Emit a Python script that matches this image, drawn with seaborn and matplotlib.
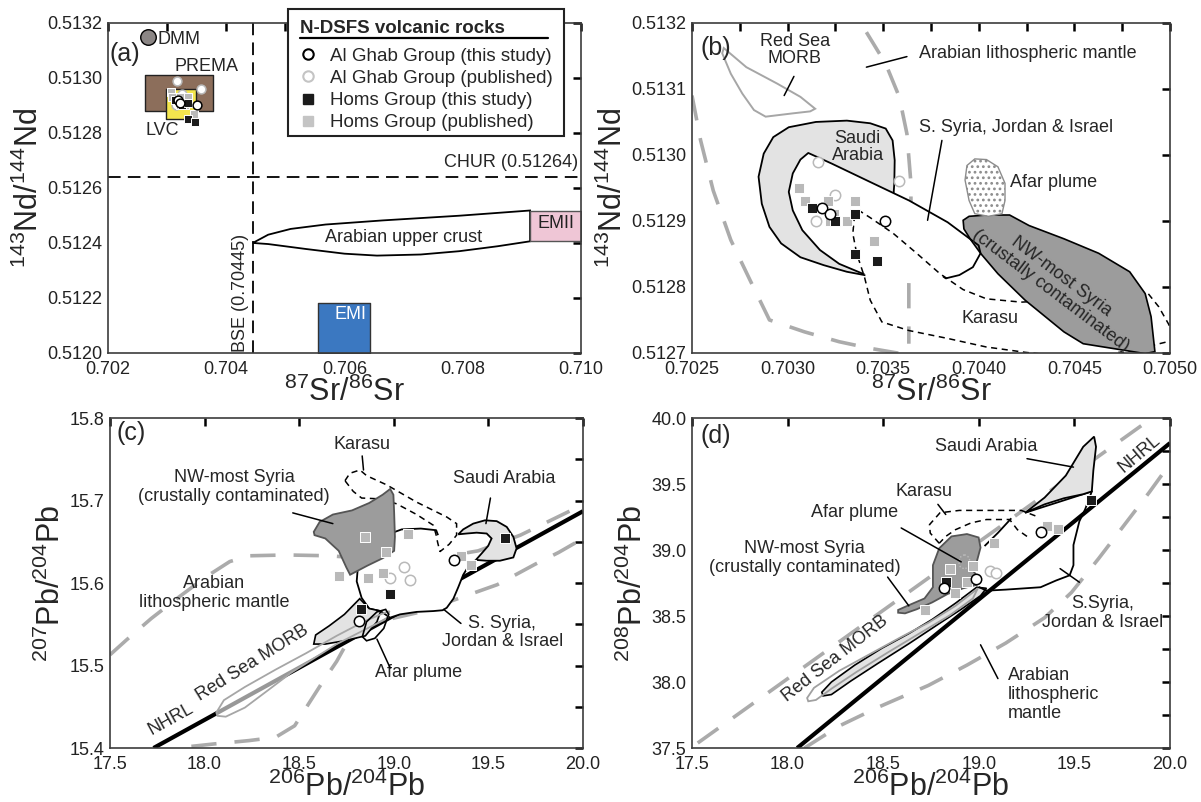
import matplotlib
matplotlib.use("Agg")
import matplotlib.pyplot as plt
import seaborn as sns
import numpy as np
from matplotlib.lines import Line2D
from matplotlib.patches import Rectangle
from matplotlib.ticker import MultipleLocator, FormatStrFormatter

sns.set_style("white")
plt.rcParams["font.family"] = ["Liberation Sans", "DejaVu Sans"]
plt.rcParams["mathtext.fontset"] = "custom"
plt.rcParams["mathtext.rm"] = "Liberation Sans"
plt.rcParams["mathtext.it"] = "Liberation Sans:italic"
plt.rcParams["mathtext.bf"] = "Liberation Sans:bold"
plt.rcParams["hatch.linewidth"] = 1.2
plt.rcParams["hatch.color"] = "#9a9a9a"

# ---------------- sample data ----------------
# Sr-Nd isotopes (panels a and b)
srnd_ghab_this_x = [0.70318, 0.70322, 0.70351]
srnd_ghab_this_y = [0.51292, 0.51291, 0.51290]
srnd_ghab_pub_x = [0.70316, 0.70325, 0.70358, 0.70315]
srnd_ghab_pub_y = [0.51299, 0.51294, 0.51296, 0.51290]
srnd_homs_this_x = [0.70313, 0.70325, 0.70335, 0.70335, 0.70347]
srnd_homs_this_y = [0.51292, 0.51290, 0.51291, 0.51285, 0.51284]
srnd_homs_pub_x = [0.70306, 0.70309, 0.70321, 0.70335, 0.70324, 0.70322, 0.70331, 0.70345]
srnd_homs_pub_y = [0.51295, 0.51293, 0.51293, 0.51293, 0.51291, 0.51290, 0.51290, 0.51287]

# 206Pb/204Pb vs 207Pb/204Pb (panel c)
pb7_ghab_this_x = [19.319, 18.814]
pb7_ghab_this_y = [15.628, 15.554]
pb7_ghab_pub_x = [19.052, 18.981, 19.086]
pb7_ghab_pub_y = [15.619, 15.606, 15.604]
pb7_homs_this_x = [19.588, 18.981, 18.826]
pb7_homs_this_y = [15.654, 15.587, 15.569]
pb7_homs_pub_x = [18.850, 19.076, 18.961, 18.709, 18.866, 18.941, 19.355, 19.406]
pb7_homs_pub_y = [15.656, 15.659, 15.637, 15.609, 15.606, 15.612, 15.633, 15.622]

# 206Pb/204Pb vs 208Pb/204Pb (panel d)
pb8_ghab_this_x = [19.323, 18.817, 18.987]
pb8_ghab_this_y = [39.133, 38.715, 38.782]
pb8_ghab_pub_x = [19.058, 19.089]
pb8_ghab_pub_y = [38.842, 38.829]
pb8_homs_this_x = [19.587, 18.830]
pb8_homs_this_y = [39.377, 38.760]
pb8_homs_pub_x = [19.358, 19.414, 19.080, 18.849, 18.967, 18.938, 18.874, 18.716]
pb8_homs_pub_y = [39.179, 39.161, 39.051, 38.854, 38.877, 38.758, 38.676, 38.544]

# ---------------- reservoir / field outlines ----------------
# panel a
a_dmm = [(0.70268, 0.51315)]
a_prema_x, a_prema_y = [0.70262, 0.70378], [0.51288, 0.51301]
a_lvc_x, a_lvc_y = [0.70298, 0.70349], [0.51285, 0.51296]
a_emi_x, a_emi_y = [0.70556, 0.70643], [0.51200, 0.51218]
a_emii_x, a_emii_y = [0.70914, 0.71000], [0.512406, 0.512518]
a_crust = [(0.70445, 0.51240), (0.70471, 0.512430), (0.70509, 0.512451), (0.70568, 0.512467),
           (0.70665, 0.512482), (0.70794, 0.512499), (0.70914, 0.512518),
           (0.70914, 0.512406), (0.70859, 0.512388), (0.70794, 0.512370), (0.70729, 0.512358),
           (0.70655, 0.512354), (0.70600, 0.512361), (0.70535, 0.512378), (0.70471, 0.512396),
           (0.70445, 0.51240)]
a_bse_sr = 0.70445
a_chur_nd = 0.51264

# panel b
b_morb = [(0.702666, 0.513162), (0.702784, 0.513133), (0.702946, 0.513108), (0.703067, 0.513088),
          (0.703144, 0.513070), (0.703118, 0.513066), (0.703027, 0.513063), (0.702885, 0.513058),
          (0.702824, 0.513068), (0.702763, 0.513093), (0.702703, 0.513123), (0.702658, 0.513154)]
b_mantle_outer = [(0.70250, 0.513090), (0.702545, 0.513022), (0.702611, 0.512946), (0.702703, 0.512871),
                  (0.702804, 0.512810), (0.702905, 0.512750), (0.703088, 0.512732), (0.703270, 0.512717),
                  (0.703432, 0.512707), (0.703594, 0.512699)]
b_mantle_inner = [(0.703412, 0.513186), (0.703513, 0.513138), (0.703584, 0.513088), (0.703624, 0.513032),
                  (0.703645, 0.512957), (0.703645, 0.512881), (0.703634, 0.512805), (0.703634, 0.512714)]
b_saudi = [(0.703402, 0.512818), (0.703310, 0.512823), (0.703189, 0.512833), (0.703067, 0.512845),
           (0.702966, 0.512866), (0.702905, 0.512891), (0.702865, 0.512926), (0.702848, 0.512967),
           (0.702875, 0.513002), (0.702925, 0.513027), (0.703006, 0.513042), (0.703148, 0.513050),
           (0.703310, 0.513052), (0.703432, 0.513048), (0.703513, 0.513040), (0.703549, 0.513022),
           (0.703560, 0.512992), (0.703558, 0.512957), (0.703553, 0.512936), (0.703412, 0.512881)]
b_ssyria = [(0.703402, 0.512819), (0.703270, 0.512835), (0.703169, 0.512856), (0.703077, 0.512886),
            (0.703027, 0.512916), (0.703006, 0.512944), (0.703027, 0.512972), (0.703067, 0.512993),
            (0.703108, 0.513003), (0.703230, 0.512987), (0.703432, 0.512959), (0.703635, 0.512931),
            (0.703837, 0.512898), (0.703999, 0.512863), (0.704009, 0.512851), (0.703969, 0.512830),
            (0.703898, 0.512818), (0.703827, 0.512813), (0.703813, 0.512816)]
b_karasu = [(0.703367, 0.512917), (0.703432, 0.512905), (0.703553, 0.512881), (0.703675, 0.512851),
            (0.703797, 0.512820), (0.703918, 0.512796), (0.704040, 0.512782), (0.704222, 0.512777),
            (0.704546, 0.512782), (0.704880, 0.512792), (0.704941, 0.512770), (0.704992, 0.512744),
            (0.705030, 0.512720), (0.704600, 0.512690), (0.704242, 0.512701), (0.704040, 0.512709),
            (0.703837, 0.512722), (0.703634, 0.512734), (0.703493, 0.512747), (0.703432, 0.512780),
            (0.703402, 0.512815), (0.703361, 0.512851), (0.703341, 0.512881), (0.703351, 0.512911)]
b_nwsyria = [(0.703918, 0.512901), (0.703949, 0.512907), (0.704040, 0.512909), (0.704161, 0.512909),
             (0.704263, 0.512893), (0.704445, 0.512873), (0.704627, 0.512851), (0.704789, 0.512823),
             (0.704870, 0.512790), (0.704901, 0.512755), (0.704921, 0.512702), (0.704870, 0.512699),
             (0.704546, 0.512714), (0.704445, 0.512732), (0.704242, 0.512780), (0.704100, 0.512820),
             (0.704009, 0.512851), (0.703959, 0.512871), (0.703922, 0.512888)]
b_afar = [(0.703979, 0.512994), (0.704040, 0.512993), (0.704100, 0.512982), (0.704137, 0.512957),
          (0.704137, 0.512931), (0.704121, 0.512911), (0.704050, 0.512907), (0.703979, 0.512911),
          (0.703949, 0.512931), (0.703928, 0.512962), (0.703938, 0.512984)]

# panel c
c_nhrl_x, c_nhrl_y = [17.73, 20.0], [15.400, 15.687]
c_mantle_upper = [(17.500, 15.513), (17.587, 15.531), (17.718, 15.557), (17.870, 15.584), (18.011, 15.608),
                  (18.133, 15.626), (18.234, 15.633), (18.436, 15.634), (18.658, 15.633), (18.840, 15.630),
                  (19.143, 15.627), (19.446, 15.639), (19.669, 15.658), (19.830, 15.676), (20.0, 15.695)]
c_mantle_lower = [(17.930, 15.402), (18.052, 15.405), (18.234, 15.409), (18.375, 15.413), (18.476, 15.427),
                  (18.537, 15.449), (18.618, 15.478), (18.698, 15.505), (18.749, 15.526), (18.820, 15.548),
                  (19.143, 15.565), (19.375, 15.584), (19.547, 15.598), (19.749, 15.623), (19.871, 15.637),
                  (20.0, 15.654)]
c_morb = [(18.062, 15.443), (18.102, 15.458), (18.213, 15.474), (18.375, 15.495), (18.537, 15.515),
          (18.698, 15.536), (18.840, 15.553), (18.941, 15.563), (18.977, 15.566), (18.965, 15.557),
          (18.860, 15.545), (18.698, 15.526), (18.456, 15.491), (18.335, 15.470), (18.213, 15.449),
          (18.112, 15.438), (18.068, 15.439)]
c_lowfield = [(18.577, 15.526), (18.587, 15.537), (18.658, 15.548), (18.739, 15.562), (18.820, 15.581),
              (18.870, 15.569), (18.931, 15.566), (18.911, 15.553), (18.850, 15.536), (18.739, 15.530),
              (18.638, 15.526)]
c_afar = [(18.834, 15.535), (18.856, 15.553), (18.911, 15.565), (18.957, 15.568), (18.973, 15.562),
          (18.947, 15.545), (18.900, 15.533), (18.856, 15.530)]
c_ssyria = [(19.434, 15.628), (19.394, 15.620), (19.367, 15.610), (19.341, 15.595), (19.315, 15.581),
            (19.280, 15.570), (19.258, 15.567), (19.209, 15.566), (19.121, 15.565), (19.033, 15.562),
            (18.980, 15.558), (18.930, 15.566), (18.870, 15.569), (18.830, 15.582), (18.804, 15.602),
            (18.810, 15.619), (18.850, 15.633), (18.941, 15.645), (19.006, 15.662), (19.042, 15.665),
            (19.143, 15.666), (19.224, 15.664), (19.234, 15.658)]
c_saudi = [(19.341, 15.659), (19.367, 15.665), (19.420, 15.672), (19.482, 15.676), (19.544, 15.675),
           (19.597, 15.668), (19.632, 15.656), (19.649, 15.642), (19.632, 15.631), (19.561, 15.627),
           (19.491, 15.627), (19.434, 15.628), (19.465, 15.636), (19.499, 15.645), (19.517, 15.654),
           (19.491, 15.660), (19.438, 15.661), (19.385, 15.660)]
c_nwsyria = [(18.577, 15.662), (18.608, 15.674), (18.678, 15.683), (18.779, 15.688), (18.870, 15.697),
             (18.941, 15.707), (18.981, 15.714), (18.998, 15.707), (19.002, 15.685), (19.006, 15.656),
             (19.002, 15.639), (18.941, 15.630), (18.860, 15.621), (18.769, 15.610), (18.749, 15.619),
             (18.709, 15.639), (18.638, 15.654), (18.581, 15.658)]
c_karasu = [(18.742, 15.724), (18.768, 15.733), (18.821, 15.737), (18.857, 15.730), (18.962, 15.719),
            (19.121, 15.698), (19.280, 15.680), (19.332, 15.672), (19.332, 15.658), (19.293, 15.647),
            (19.244, 15.638), (19.232, 15.649), (19.223, 15.659), (19.209, 15.670), (19.121, 15.683),
            (19.015, 15.696), (18.927, 15.702), (18.830, 15.703), (18.786, 15.711), (18.742, 15.724)]

# panel d
d_nhrl_x, d_nhrl_y = [18.05, 20.0], [37.50, 39.81]
d_mantle_upper = [(17.530, 37.538), (19.931, 40.026)]
d_mantle_lower = [(18.088, 37.500), (18.270, 37.667), (18.472, 37.808), (18.736, 37.974), (18.938, 38.128),
                  (19.141, 38.295), (19.344, 38.487), (19.485, 38.679), (19.627, 38.936), (19.769, 39.205),
                  (19.891, 39.436), (20.0, 39.654)]
d_lowfield = [(18.179, 37.923), (18.229, 38.000), (18.351, 38.128), (18.493, 38.256), (18.634, 38.367),
              (18.756, 38.474), (18.878, 38.597), (18.989, 38.718), (19.040, 38.710), (19.009, 38.654),
              (18.908, 38.551), (18.786, 38.436), (18.634, 38.290), (18.472, 38.141), (18.331, 38.008),
              (18.229, 37.905), (18.185, 37.895)]
d_morb = [(18.102, 37.879), (18.138, 37.956), (18.270, 38.085), (18.432, 38.213), (18.594, 38.341),
          (18.736, 38.449), (18.878, 38.577), (18.969, 38.679), (18.995, 38.710), (18.969, 38.633),
          (18.848, 38.505), (18.685, 38.364), (18.523, 38.223), (18.361, 38.077), (18.229, 37.949),
          (18.148, 37.864), (18.108, 37.854)]
d_nwsyria = [(18.578, 38.546), (18.634, 38.582), (18.716, 38.633), (18.760, 38.718), (18.760, 38.885),
             (18.793, 39.013), (18.857, 39.103), (18.938, 39.121), (18.999, 39.095), (19.009, 39.018),
             (18.989, 38.910), (18.975, 38.833), (19.009, 38.769), (18.989, 38.736), (18.918, 38.710),
             (18.837, 38.667), (18.756, 38.603), (18.675, 38.551), (18.614, 38.520), (18.578, 38.525)]
d_afar = [(18.925, 38.965), (18.948, 38.945), (18.955, 38.910), (18.948, 38.875), (18.925, 38.855),
          (18.902, 38.875), (18.895, 38.910), (18.902, 38.945)]
d_saudi = [(19.242, 39.282), (19.344, 39.397), (19.455, 39.564), (19.546, 39.782), (19.603, 39.859),
           (19.613, 39.782), (19.599, 39.602), (19.591, 39.444), (19.546, 39.423), (19.445, 39.392),
           (19.344, 39.346)]
d_ssyria = [(19.242, 39.282), (19.591, 39.444), (19.556, 39.308), (19.526, 39.218), (19.495, 39.038),
            (19.495, 38.885), (19.475, 38.808), (19.404, 38.769), (19.323, 38.718), (19.242, 38.710),
            (19.141, 38.700), (19.040, 38.692), (19.000, 38.720)]
d_ssyria_left = [(19.030, 39.030), (19.100, 39.130), (19.170, 39.240)]
d_karasu = [(18.793, 39.051), (18.746, 39.128), (18.742, 39.192), (18.797, 39.282), (18.898, 39.300),
            (19.222, 39.300), (19.313, 39.249)]
d_karasu_inner = [(19.252, 39.103), (19.202, 39.154), (19.161, 39.231), (19.040, 39.231), (18.959, 39.205),
                  (18.878, 39.154), (18.827, 39.103), (18.793, 39.051)]

# ---------------- style ----------------
BLACK = "#1b1b1b"
LIGHT = "#b9b9b9"
DASHGRAY = "#ababab"
SAUDI_FC = "#e3e3e3"
NW_FC = "#9c9c9c"
NW_EC = "#555555"
TXT = 13
LAB = 22


def xy(pts):
    arr = np.array(pts)
    return arr[:, 0], arr[:, 1]


def field(ax, pts, fc="none", ec="black", lw=1.2, z=3, ls="-", **kw):
    x, y = xy(pts)
    ax.fill(x, y, facecolor=fc, edgecolor=ec, linewidth=lw, zorder=z, linestyle=ls, **kw)


def path(ax, pts, color="black", lw=1.2, z=3, dashes=None):
    x, y = xy(pts)
    ln, = ax.plot(x, y, color=color, lw=lw, zorder=z, solid_capstyle="butt")
    if dashes is not None:
        ln.set_dashes(dashes)
    return ln


def leader(ax, p0, p1, z=8):
    ax.plot([p0[0], p1[0]], [p0[1], p1[1]], color="black", lw=1.1, zorder=z)


def samples(ax, gt_x, gt_y, gp_x, gp_y, ht_x, ht_y, hp_x, hp_y, s_sq=56, s_ci=56):
    sns.scatterplot(x=gp_x, y=gp_y, marker="o", s=s_ci, color="white", edgecolor=LIGHT,
                    linewidth=1.1, ax=ax, zorder=10, legend=False)
    sns.scatterplot(x=hp_x, y=hp_y, marker="s", s=s_sq, color=LIGHT, edgecolor="white",
                    linewidth=0.7, ax=ax, zorder=11, legend=False)
    sns.scatterplot(x=ht_x, y=ht_y, marker="s", s=s_sq, color=BLACK, edgecolor="white",
                    linewidth=0.7, ax=ax, zorder=12, legend=False)
    sns.scatterplot(x=gt_x, y=gt_y, marker="o", s=s_ci, color="white", edgecolor="black",
                    linewidth=1.1, ax=ax, zorder=13, legend=False)


def style_axes(ax, xlim, ylim, xmaj, xmin, ymaj, ymin, xfmt, yfmt):
    ax.set_xlim(*xlim)
    ax.set_ylim(*ylim)
    ax.xaxis.set_major_locator(MultipleLocator(xmaj))
    ax.yaxis.set_major_locator(MultipleLocator(ymaj))
    if xmin:
        ax.xaxis.set_minor_locator(MultipleLocator(xmin))
    if ymin:
        ax.yaxis.set_minor_locator(MultipleLocator(ymin))
    ax.xaxis.set_major_formatter(FormatStrFormatter(xfmt))
    ax.yaxis.set_major_formatter(FormatStrFormatter(yfmt))
    ax.tick_params(which="both", direction="in", top=True, right=True, length=6, width=1.8,
                   color="black", labelsize=13, labelcolor="#222222")
    ax.tick_params(axis="x", which="both", pad=5.5)
    ax.tick_params(axis="y", which="both", pad=4)
    for sp in ax.spines.values():
        sp.set_color("#3c3c3c")
        sp.set_linewidth(1.2)
        sp.set_zorder(30)


fig = plt.figure(figsize=(12.01, 8.02), dpi=100)
ax_a = fig.add_axes([0.0899, 0.5599, 0.3938, 0.4115])
ax_b = fig.add_axes([0.5762, 0.5599, 0.3980, 0.4115])
ax_c = fig.add_axes([0.0916, 0.0673, 0.3938, 0.4115])
ax_d = fig.add_axes([0.5762, 0.0673, 0.3980, 0.4115])

SR_LABEL = r"$^{87}$Sr/$^{86}$Sr"
ND_LABEL = r"$^{143}$Nd/$^{144}$Nd"
PB6_LABEL = r"$^{206}$Pb/$^{204}$Pb"
PB7_LABEL = r"$^{207}$Pb/$^{204}$Pb"
PB8_LABEL = r"$^{208}$Pb/$^{204}$Pb"

# ================= panel (a) =================
ax = ax_a
style_axes(ax, (0.702, 0.710), (0.5120, 0.5132), 0.002, 0.001, 0.0002, None, "%.3f", "%.4f")
ax.axvline(a_bse_sr, color="black", lw=1.3, dashes=(7, 4), zorder=2)
ax.axhline(a_chur_nd, color="black", lw=1.3, dashes=(7, 4), zorder=2)
field(ax, a_crust, fc="white", ec="black", lw=1.3, z=3)
ax.fill_between(a_emii_x, a_emii_y[0], a_emii_y[1], facecolor="#efc6d6", edgecolor="#555555", lw=1.0, zorder=4)
ax.fill_between(a_emi_x, a_emi_y[0], a_emi_y[1], facecolor="#3b78c1", edgecolor="#333333", lw=1.0, zorder=4)
ax.fill_between(a_prema_x, a_prema_y[0], a_prema_y[1], facecolor="#8c6e5b", edgecolor="#222222", lw=1.0, zorder=4)
ax.fill_between(a_lvc_x, a_lvc_y[0], a_lvc_y[1], facecolor="#f4e64e", edgecolor="#222222", lw=1.0, zorder=5)
dx, dy = xy(a_dmm)
sns.scatterplot(x=dx, y=dy, s=125, color="#8b8685", edgecolor="black", linewidth=1.0, ax=ax,
                zorder=6, legend=False)
samples(ax, srnd_ghab_this_x, srnd_ghab_this_y, srnd_ghab_pub_x, srnd_ghab_pub_y,
        srnd_homs_this_x, srnd_homs_this_y, srnd_homs_pub_x, srnd_homs_pub_y, s_sq=40, s_ci=40)
ax.text(0.70283, 0.51314, "DMM", fontsize=TXT, ha="left", va="center", zorder=20)
ax.text(0.70366, 0.51304, "PREMA", fontsize=TXT, ha="center", va="center", zorder=20)
ax.text(0.70291, 0.51281, "LVC", fontsize=TXT, ha="center", va="center", zorder=20)
ax.text(0.70700, 0.51242, "Arabian upper crust", fontsize=TXT, ha="center", va="center", zorder=20)
ax.text(0.70957, 0.51250, "EMII", fontsize=TXT, ha="center", va="top", zorder=20, color="#222222")
ax.text(0.70611, 0.51214, "EMI", fontsize=TXT, ha="center", va="center", zorder=20, color="white")
ax.text(0.70995, 0.51266, "CHUR (0.51264)", fontsize=TXT, ha="right", va="bottom", zorder=20)
ax.text(0.70425, 0.51222, "BSE (0.70445)", fontsize=TXT, ha="center", va="center", rotation=90, zorder=20)
ax.text(0.035, 0.905, "(a)", transform=ax.transAxes, fontsize=18, ha="center", va="center", zorder=20)
ax.set_xlabel(SR_LABEL, fontsize=LAB, labelpad=-1)
ax.set_ylabel(ND_LABEL, fontsize=LAB, labelpad=2)

# legend box: frame, bold title with rule, then the four sample groups
ax.add_patch(Rectangle((0.3805, 0.6576), 0.5835, 0.3848, transform=ax.transAxes, facecolor="white",
                       edgecolor="#222222", lw=1.5, clip_on=False, zorder=40))
ax.text(0.405, 0.982, "N-DSFS volcanic rocks", transform=ax.transAxes, fontsize=13.5,
        fontweight="bold", ha="left", va="center", zorder=41)
ax.plot([0.405, 0.930], [0.9545, 0.9545], transform=ax.transAxes, color="black", lw=1.6,
        clip_on=False, zorder=41)
handles = [
    Line2D([], [], marker="o", ls="none", mfc="white", mec="black", mew=1.5, ms=7.5),
    Line2D([], [], marker="o", ls="none", mfc="white", mec="#c4c4c4", mew=1.5, ms=7.5),
    Line2D([], [], marker="s", ls="none", mfc=BLACK, mec=BLACK, ms=7.5),
    Line2D([], [], marker="s", ls="none", mfc="#c4c4c4", mec="#c4c4c4", ms=7.5),
]
labels = ["Al Ghab Group (this study)", "Al Ghab Group (published)",
          "Homs Group (this study)", "Homs Group (published)"]
leg = ax.legend(handles, labels, loc="upper left", bbox_to_anchor=(0.405, 0.925), frameon=False,
                fontsize=13.5, handlelength=0.9, handletextpad=0.75, labelspacing=0.27,
                borderpad=0.0, borderaxespad=0.0)
leg.set_zorder(42)

# ================= panel (b) =================
ax = ax_b
style_axes(ax, (0.7025, 0.7050), (0.5127, 0.5132), 0.0005, 0.00025, 0.0001, None, "%.4f", "%.4f")
path(ax, b_mantle_outer, color=DASHGRAY, lw=2.6, z=1, dashes=(7, 5))
path(ax, b_mantle_inner, color=DASHGRAY, lw=2.6, z=1, dashes=(7, 5))
field(ax, b_morb, fc="none", ec="#a6a6a6", lw=1.4, z=2)
field(ax, b_saudi, fc=SAUDI_FC, ec="black", lw=1.3, z=3)
bx, by = xy(b_ssyria)
ax.fill(bx, by, facecolor="white", edgecolor="none", zorder=4)
path(ax, b_ssyria, color="black", lw=1.3, z=7)
kx, ky = xy(b_karasu)
ax.fill(kx, ky, facecolor="none", edgecolor="black", lw=1.1, zorder=5, linestyle=(0, (4, 3)))
field(ax, b_nwsyria, fc=NW_FC, ec="black", lw=1.2, z=6)
field(ax, b_afar, fc="white", ec="#8c8c8c", lw=1.0, z=6, hatch="...")
samples(ax, srnd_ghab_this_x, srnd_ghab_this_y, srnd_ghab_pub_x, srnd_ghab_pub_y,
        srnd_homs_this_x, srnd_homs_this_y, srnd_homs_pub_x, srnd_homs_pub_y)
leader(ax, (0.702982, 0.513090), (0.703033, 0.513119))
leader(ax, (0.703412, 0.513133), (0.703624, 0.513149))
leader(ax, (0.703807, 0.513022), (0.703732, 0.512901))
ax.text(0.703037, 0.513159, "Red Sea\nMORB", fontsize=TXT, ha="center", va="center", linespacing=1.05)
ax.text(0.703685, 0.513154, "Arabian lithospheric mantle", fontsize=TXT, ha="left", va="center")
ax.text(0.703685, 0.513042, "S. Syria, Jordan & Israel", fontsize=TXT, ha="left", va="center")
ax.text(0.703367, 0.513012, "Saudi\nArabia", fontsize=TXT, ha="center", va="center", linespacing=1.05, zorder=8)
ax.text(0.704165, 0.512959, "Afar plume", fontsize=TXT, ha="left", va="center")
ax.text(0.704060, 0.512752, "Karasu", fontsize=TXT, ha="center", va="center", zorder=8)
ax.text(0.704404, 0.512805, "NW-most Syria\n(crustally contaminated)", fontsize=TXT, ha="center",
        va="center", rotation=-37, rotation_mode="anchor", linespacing=1.05, zorder=8)
ax.text(0.05, 0.925, "(b)", transform=ax.transAxes, fontsize=18, ha="center", va="center", zorder=20)
ax.set_xlabel(SR_LABEL, fontsize=LAB, labelpad=-1)
ax.set_ylabel(ND_LABEL, fontsize=LAB, labelpad=2)

# ================= panel (c) =================
ax = ax_c
style_axes(ax, (17.5, 20.0), (15.4, 15.8), 0.5, None, 0.1, 0.05, "%.1f", "%.1f")
path(ax, c_mantle_upper, color=DASHGRAY, lw=2.6, z=1, dashes=(7, 5))
path(ax, c_mantle_lower, color=DASHGRAY, lw=2.6, z=1, dashes=(7, 5))
ax.plot(c_nhrl_x, c_nhrl_y, color="black", lw=3.0, zorder=2, solid_capstyle="butt")
mx, my = xy(c_morb)
ax.fill(mx, my, facecolor=(1, 1, 1, 0.6), edgecolor="none", zorder=2.5)
sx, sy = xy(c_ssyria)
ax.fill(sx, sy, facecolor="white", edgecolor="none", zorder=3)
path(ax, c_ssyria, color="black", lw=1.3, z=4)
field(ax, c_karasu, fc="none", ec="black", lw=1.1, z=4, ls=(0, (4, 3)))
field(ax, c_lowfield, fc=SAUDI_FC, ec="black", lw=1.2, z=5)
field(ax, c_morb, fc="none", ec="#a6a6a6", lw=1.3, z=5.5)
field(ax, c_afar, fc="none", ec="black", lw=1.2, z=6)
field(ax, c_nwsyria, fc=NW_FC, ec=NW_EC, lw=1.3, z=5)
field(ax, c_saudi, fc=SAUDI_FC, ec="black", lw=1.3, z=5)
samples(ax, pb7_ghab_this_x, pb7_ghab_this_y, pb7_ghab_pub_x, pb7_ghab_pub_y,
        pb7_homs_this_x, pb7_homs_this_y, pb7_homs_pub_x, pb7_homs_pub_y)
leader(ax, (18.466, 15.685), (18.678, 15.672))
leader(ax, (19.511, 15.703), (19.487, 15.672))
leader(ax, (19.264, 15.568), (19.355, 15.551))
leader(ax, (18.911, 15.532), (18.981, 15.497))
leader(ax, (18.833, 15.754), (18.840, 15.737))
ax.text(18.830, 15.768, "Karasu", fontsize=TXT, ha="center", va="center")
ax.text(18.157, 15.716, "NW-most Syria\n(crustally contaminated)", fontsize=TXT, ha="center",
        va="center", linespacing=1.15)
ax.text(19.584, 15.727, "Saudi Arabia", fontsize=TXT, ha="center", va="center")
ax.text(18.052, 15.588, "Arabian\nlithospheric mantle", fontsize=TXT, ha="center", va="center",
        linespacing=1.15)
ax.text(19.574, 15.540, "S. Syria,\nJordan & Israel", fontsize=TXT, ha="center", va="center",
        linespacing=1.15)
ax.text(19.133, 15.492, "Afar plume", fontsize=TXT, ha="center", va="center")
ax.text(18.254, 15.503, "Red Sea MORB", fontsize=TXT, ha="center", va="center", rotation=32,
        rotation_mode="anchor")
ax.text(17.819, 15.435, "NHRL", fontsize=TXT, ha="center", va="center", rotation=29,
        rotation_mode="anchor")
ax.text(0.045, 0.955, "(c)", transform=ax.transAxes, fontsize=18, ha="center", va="center", zorder=20)
ax.set_xlabel(PB6_LABEL, fontsize=LAB, labelpad=-1)
ax.set_ylabel(PB7_LABEL, fontsize=LAB, labelpad=2)

# ================= panel (d) =================
ax = ax_d
style_axes(ax, (17.5, 20.0), (37.5, 40.0), 0.5, None, 0.5, 0.25, "%.1f", "%.1f")
path(ax, d_mantle_upper, color=DASHGRAY, lw=2.6, z=1, dashes=(7, 5))
path(ax, d_mantle_lower, color=DASHGRAY, lw=2.6, z=1, dashes=(7, 5))
ax.plot(d_nhrl_x, d_nhrl_y, color="black", lw=3.0, zorder=2.5, solid_capstyle="butt")
sx, sy = xy(d_ssyria)
ax.fill(sx, sy, facecolor="white", edgecolor="none", zorder=2)
path(ax, d_ssyria, color="black", lw=1.3, z=4)
path(ax, d_ssyria_left, color="black", lw=1.3, z=4)
path(ax, d_karasu, color="black", lw=1.1, z=4, dashes=(4, 3))
path(ax, d_karasu_inner, color="black", lw=1.1, z=4, dashes=(4, 3))
field(ax, d_lowfield, fc=SAUDI_FC, ec="black", lw=1.2, z=3)
field(ax, d_morb, fc="none", ec="#a0a0a0", lw=1.3, z=3.5)
field(ax, d_nwsyria, fc=NW_FC, ec=NW_EC, lw=1.3, z=5)
field(ax, d_afar, fc="none", ec="#bdbdbd", lw=1.0, z=5.5, ls=(0, (1, 1.5)))
field(ax, d_saudi, fc=SAUDI_FC, ec="black", lw=1.3, z=5)
samples(ax, pb8_ghab_this_x, pb8_ghab_this_y, pb8_ghab_pub_x, pb8_ghab_pub_y,
        pb8_homs_this_x, pb8_homs_this_y, pb8_homs_pub_x, pb8_homs_pub_y)
leader(ax, (19.252, 39.692), (19.495, 39.628))
leader(ax, (18.786, 39.346), (18.827, 39.269))
leader(ax, (18.594, 39.167), (18.908, 38.910))
leader(ax, (18.523, 38.795), (18.634, 38.577))
leader(ax, (19.425, 38.859), (19.526, 38.756))
leader(ax, (19.009, 38.282), (19.100, 38.026))
ax.text(19.040, 39.782, "Saudi Arabia", fontsize=TXT, ha="center", va="center")
ax.text(18.711, 39.443, "Karasu", fontsize=TXT, ha="center", va="center")
ax.text(18.351, 39.282, "Afar plume", fontsize=TXT, ha="center", va="center")
ax.text(18.088, 38.936, "NW-most Syria\n(crustally contaminated)", fontsize=TXT, ha="center",
        va="center", linespacing=1.15)
ax.text(18.250, 38.179, "Red Sea MORB", fontsize=TXT, ha="center", va="center", rotation=38,
        rotation_mode="anchor")
ax.text(19.840, 39.731, "NHRL", fontsize=TXT, ha="center", va="center", rotation=40,
        rotation_mode="anchor")
ax.text(19.647, 38.526, "S.Syria,\nJordan & Israel", fontsize=TXT, ha="center", va="center",
        linespacing=1.15)
ax.text(19.151, 37.905, "Arabian\nlithospheric\nmantle", fontsize=TXT, ha="left", va="center",
        linespacing=1.15)
ax.text(0.049, 0.945, "(d)", transform=ax.transAxes, fontsize=18, ha="center", va="center", zorder=20)
ax.set_xlabel(PB6_LABEL, fontsize=LAB, labelpad=-1)
ax.set_ylabel(PB8_LABEL, fontsize=LAB, labelpad=2)

fig.savefig("out.png", dpi=100, facecolor="white")
